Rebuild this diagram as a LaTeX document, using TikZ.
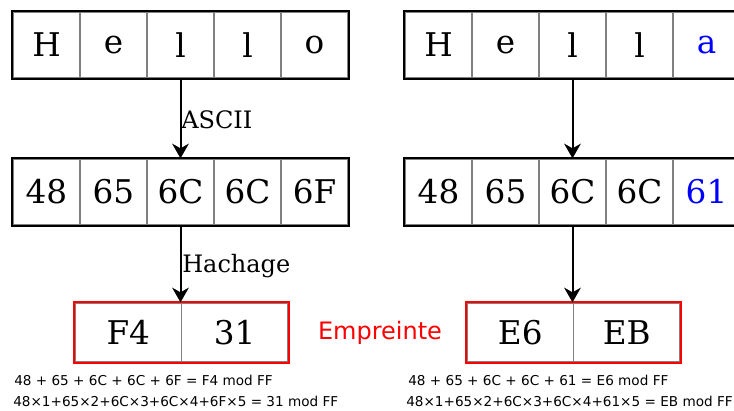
\documentclass[tikz,border=0pt]{standalone}
\usepackage{fontspec}
\setmainfont{DejaVu Serif}
\newfontfamily\sansf{DejaVu Sans}
\usetikzlibrary{arrows.meta}
\tikzset{
  cell/.style={draw=gray, line width=1pt, minimum width=50.25pt, minimum height=49.5pt, inner sep=0pt, font=\fontsize{24.5}{28}\selectfont},
  hcell/.style={draw=gray, line width=1pt, minimum width=79.9pt, minimum height=44.25pt, inner sep=0pt, font=\fontsize{24.5}{28}\selectfont},
  outer/.style={draw=black, line width=1.6pt},
  redouter/.style={draw=red, line width=1.6pt},
  flow/.style={line width=1.5pt, -{Stealth[length=11pt, width=12.5pt, inset=3.5pt]}},
  lbl/.style={inner sep=0pt, font=\fontsize{18}{20}\selectfont, anchor=base west},
  formula/.style={inner sep=0pt, font=\sansf\fontsize{10.2}{12}\selectfont, anchor=west},
  hl/.style={text=blue}
}
\begin{document}
\begin{tikzpicture}[x=0.75pt, y=-0.75pt]
\useasboundingbox[fill=white] (0,0) rectangle (734,410);
% left top
\node[cell] (la1) at (46.5,45) {H};
\node[cell] (la2) at (113.5,45) {e};
\node[cell] (la3) at (180.5,45) {l};
\node[cell] (la4) at (247.5,45) {l};
\node[cell] (la5) at (314.5,45) {o};
\draw[outer] (la1.north west) rectangle (la5.south east);
% left middle
\node[cell] (lb1) at (46.5,192) {48};
\node[cell] (lb2) at (113.5,192) {65};
\node[cell] (lb3) at (180.5,192) {6C};
\node[cell] (lb4) at (247.5,192) {6C};
\node[cell] (lb5) at (314.5,192) {6F};
\draw[outer] (lb1.north west) rectangle (lb5.south east);
% left hash
\node[hcell] (lc1) at (128.25,332.5) {F4};
\node[hcell] (lc2) at (234.75,332.5) {31};
\draw[redouter] (lc1.north west) rectangle (lc2.south east);
% right top
\node[cell] (ra1) at (438.5,45) {H};
\node[cell] (ra2) at (505.5,45) {e};
\node[cell] (ra3) at (572.5,45) {l};
\node[cell] (ra4) at (639.5,45) {l};
\node[cell, hl] (ra5) at (706.5,45) {a};
\draw[outer] (ra1.north west) rectangle (ra5.south east);
% right middle
\node[cell] (rb1) at (438.5,192) {48};
\node[cell] (rb2) at (505.5,192) {65};
\node[cell] (rb3) at (572.5,192) {6C};
\node[cell] (rb4) at (639.5,192) {6C};
\node[cell, hl] (rb5) at (706.5,192) {61};
\draw[outer] (rb1.north west) rectangle (rb5.south east);
% right hash
\node[hcell] (rc1) at (520.25,332.5) {E6};
\node[hcell] (rc2) at (626.75,332.5) {EB};
\draw[redouter] (rc1.north west) rectangle (rc2.south east);
% arrows
\draw[flow] (la3.south) -- (lb3.north);
\draw[flow] (lb3.south) -- (lb3.south |- lc1.north);
\draw[flow] (ra3.south) -- (rb3.north);
\draw[flow] (rb3.south) -- (rb3.south |- rc1.north);
% labels
\node[lbl] (ascii) at (181,128) {ASCII};
\node[lbl] (hach) at (182,272) {Hachage};
\node[inner sep=0pt, text=red, font=\sansf\fontsize{18}{20}\selectfont] (emp) at (380,333) {Empreinte};
% formulas
\node[formula] (lf1) at (14,380) {48 + 65 + 6C + 6C + 6F = F4 mod FF};
\node[formula] (lf2) at (13,401) {48×1+65×2+6C×3+6C×4+6F×5 = 31 mod FF};
\node[formula] (rf1) at (408,380) {48 + 65 + 6C + 6C + 61 = E6 mod FF};
\node[formula] (rf2) at (406,401) {48×1+65×2+6C×3+6C×4+61×5 = EB mod FF};
\end{tikzpicture}
\end{document}
